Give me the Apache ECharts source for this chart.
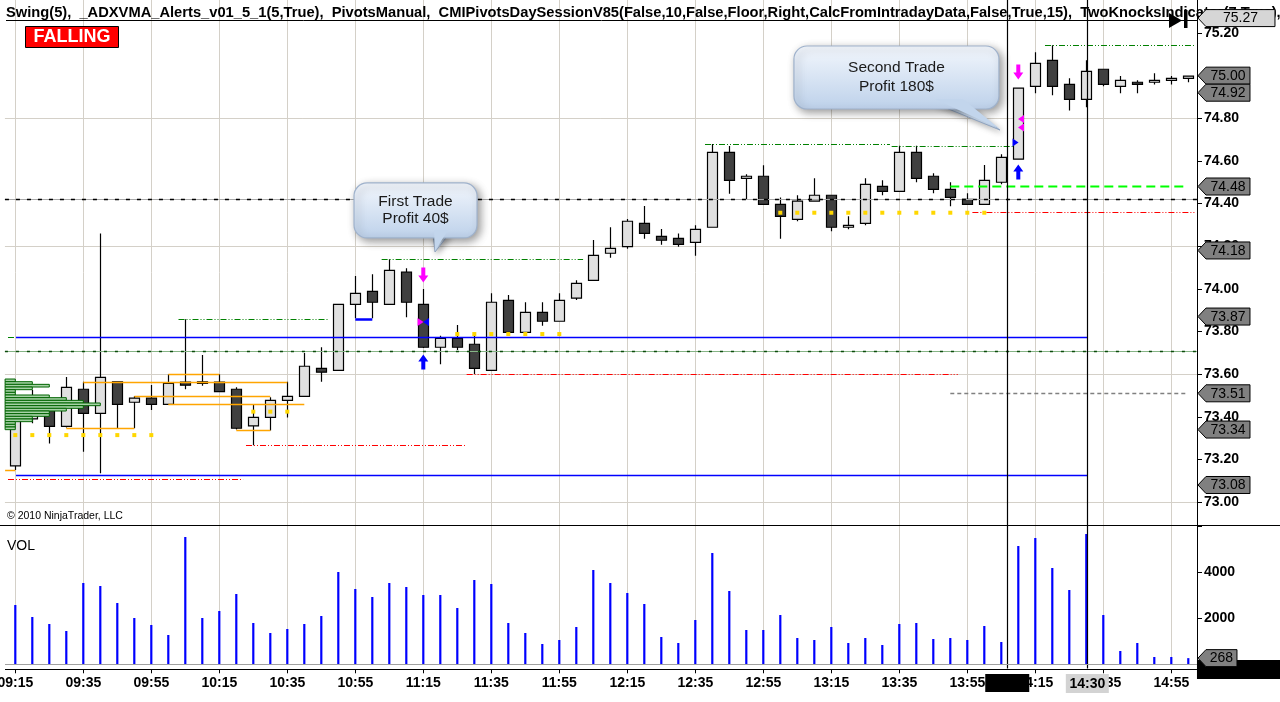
<!DOCTYPE html>
<html><head><meta charset="utf-8">
<script src="https://cdn.jsdelivr.net/npm/echarts@6/dist/echarts.min.js"></script>
<style>html,body{margin:0;padding:0;background:#fff;overflow:hidden}#c{width:1280px;height:702px}</style>
</head><body><div id="c"></div>
<script>
const FONT = '"Liberation Sans", Arial, sans-serif';
const times = ['09:15','09:20','09:25','09:30','09:35','09:40','09:45','09:50','09:55','10:00','10:05','10:10','10:15','10:20','10:25','10:30','10:35','10:40','10:45','10:50','10:55','11:00','11:05','11:10','11:15','11:20','11:25','11:30','11:35','11:40','11:45','11:50','11:55','12:00','12:05','12:10','12:15','12:20','12:25','12:30','12:35','12:40','12:45','12:50','12:55','13:00','13:05','13:10','13:15','13:20','13:25','13:30','13:35','13:40','13:45','13:50','13:55','14:00','14:05','14:10','14:15','14:20','14:25','14:30','14:35','14:40','14:45','14:50','14:55','15:00'];
const opens  = [73.17,73.39,73.432,73.355,73.529,73.416,73.564,73.468,73.487,73.458,73.563,73.557,73.563,73.529,73.357,73.397,73.477,73.496,73.627,73.618,73.9275,73.988,73.9275,74.078,73.9275,73.726,73.768,73.74,73.618,73.946,73.796,73.89,73.848,73.956,74.04,74.167,74.198,74.307,74.246,74.237,74.218,74.289,74.64,74.5185,74.528,74.3965,74.326,74.411,74.439,74.289,74.307,74.481,74.4575,74.64,74.528,74.467,74.42,74.3965,74.50,74.608,74.95,75.072,74.959,74.889,75.03,74.95,74.969,74.969,74.978,74.9875];
const highs  = [73.43,73.525,73.46,73.587,73.564,74.26,73.564,73.497,73.549,73.599,73.857,73.69,73.599,73.538,73.455,73.491,73.564,73.699,73.726,73.93,74.06,74.068,74.1385,74.096,73.999,73.78,73.83,73.79,73.979,73.971,73.937,73.937,73.979,74.04,74.229,74.289,74.328,74.389,74.281,74.26,74.298,74.679,74.67,74.537,74.58,74.429,74.439,74.5185,74.441,74.34,74.5185,74.509,74.671,74.671,74.542,74.50,74.448,74.581,74.631,74.941,75.11,75.142,74.9875,75.072,75.032,74.9985,74.978,75.011,74.9985,75.00];
const lows   = [73.15,73.37,73.274,73.35,73.236,73.135,73.346,73.346,73.432,73.458,73.529,73.546,73.518,73.34,73.266,73.335,73.396,73.496,73.564,73.615,73.862,73.862,73.925,73.8665,73.722,73.646,73.713,73.60,73.615,73.794,73.794,73.827,73.846,73.948,74.038,74.146,74.188,74.235,74.207,74.198,74.155,74.287,74.446,74.42,74.395,74.235,74.317,74.409,74.27,74.279,74.298,74.439,74.455,74.50,74.448,74.387,74.395,74.395,74.49,74.606,74.917,74.908,74.837,74.8515,74.95,74.917,74.917,74.959,74.959,74.969];
const closes = [73.385,73.445,73.355,73.538,73.416,73.585,73.458,73.487,73.458,73.557,73.548,73.564,73.518,73.346,73.397,73.477,73.496,73.637,73.609,73.9275,73.979,73.937,74.087,73.937,73.726,73.768,73.726,73.627,73.937,73.796,73.89,73.848,73.946,74.026,74.157,74.19,74.317,74.26,74.228,74.209,74.279,74.64,74.509,74.528,74.3965,74.34,74.411,74.439,74.289,74.298,74.49,74.4575,74.64,74.5185,74.467,74.429,74.3965,74.509,74.617,74.941,75.058,74.95,74.889,75.02,74.959,74.978,74.959,74.978,74.9875,74.998];
const volumes = [2578,2057,1752,1448,3535,3404,2665,2013,1709,1274,5535,2013,2317,3057,1796,1361,1535,1752,2100,4013,3274,2926,3535,3361,3013,3013,2448,3665,3491,1796,1361,883,1057,1622,4100,3535,3100,2622,1187,926,1926,4839,3187,1491,1491,2143,1143,1057,1622,926,1143,839,1752,1796,1100,1143,1057,1665,970,5143,5491,4187,3230,5665,2143,578,926,317,317,268];
const priceTickMin = 73.0, priceTickMax = 75.2;
const volTickLabels = [2000, 4000];
const priceGridLevels = [73.0, 73.6, 74.2, 74.8];
// segments: [startBar, endBar, price]
const greenSwingLines = [[-0.43,0,73.774],[9.6,18.4,73.857],[21.55,33.4,74.1385],[40.57,51.45,74.679],[51.55,58.75,74.671],[60.57,69.4,75.142]];
const redSwingLines = [[-0.43,13.4,73.107],[13.57,26.45,73.266],[26.55,55.44,73.60],[56.3,69.4,74.359]];
const blueLevelLines = [[0.04,63.06,73.774],[0.04,63.06,73.127]];
const blueSwingLow = [[20,21,73.857]];
const orangeLines = [[-0.6,0,73.150],[3,7,73.346],[4,16,73.564],[9,12,73.599],[7,15,73.4965],[9,17,73.46],[13,15,73.336]];
const grayDashLines = [[55,69,73.511]];
const limeDashLines = [[55,69,74.482]];
const pivotLevel = 74.421;
const greenPivotLevel = 73.707;
// yellow dots runs: [fromBar, toBar, price]
const yellowDotRuns = [[0,8,73.314],[14,16,73.424],[26,32,73.788],[45,57,74.357]];
// volume profile rows (top price, end bar)
const profileTops = [73.577,73.5645,73.552,73.5395,73.527,73.5145,73.502,73.4895,73.477,73.4645,73.452,73.4395,73.427,73.4145,73.402,73.3895,73.377,73.3645,73.352];
const profileEnds = [0,1,2,1,0,0,2,3,4,5,4,3,2,2,1,1,0,0,0];
// trade markers
const magentaDownArrows = [[24,74.065],[59,75.017]];
const blueUpArrows = [[24,73.657],[59,74.548]];
const magentaRightTri = [[23.84,73.8445]];
const blueLeftTri = [[24.16,73.8445]];
const magentaLeftTri = [[59.16,74.797],[59.16,74.757]];
const blueRightTri = [[58.84,74.686]];
const crosshairBars = [58.35, 63.06];
const priceTags = [75.27, 75.00, 74.92, 74.48, 74.18, 73.87, 73.51, 73.34, 73.08];
const lastVolume = 268;
const callouts = [
  {lines:['First Trade','Profit 40$'], bar:24.69, price:74.173},
  {lines:['Second Trade','Profit 180$'], bar:57.92, price:74.745}
];
const titleText = 'Swing(5),  _ADXVMA_Alerts_v01_5_1(5,True),  PivotsManual,  CMIPivotsDaySessionV85(False,10,False,Floor,Right,CalcFromIntradayData,False,True,15),  TwoKnocksIndicator(7,True),  ?';

const gridColor = '#d4d0c8';
const styles = {
  grid:{stroke:gridColor,lineWidth:1},
  green:{stroke:'#008000',lineWidth:1,lineDash:[6,2,1,2,1,2]},
  red:{stroke:'#ff0000',lineWidth:1,lineDash:[6,2,1,2,1,2]},
  blue:{stroke:'#0000ff',lineWidth:1.4},
  blueThick:{stroke:'#0000ff',lineWidth:2.5},
  orange:{stroke:'#ffa500',lineWidth:1.5},
  grayDash:{stroke:'#808080',lineWidth:1.3,lineDash:[4,3]},
  lime:{stroke:'#00ff00',lineWidth:2.2,lineDash:[9,5]},
  pivotBase:{stroke:'#a8a8a8',lineWidth:1},
  pivotDash:{stroke:'#000000',lineWidth:1.4,lineDash:[4,7]},
  gpBase:{stroke:'#86b486',lineWidth:1},
  gpDash:{stroke:'#0a4a0a',lineWidth:1.4,lineDash:[3,8]}
};
const FULL_L = -0.61, FULL_R = 69.51;
function tagSegs(arr, key){ return arr.map(s => [s[0], s[1], s[2], key]); }
const belowSegs = priceGridLevels.map(p => [FULL_L, FULL_R, p, 'grid']);
const aboveSegs = [].concat(
  [[FULL_L,FULL_R,pivotLevel,'pivotBase'],[FULL_L,FULL_R,pivotLevel,'pivotDash'],
   [FULL_L,FULL_R,greenPivotLevel,'gpBase'],[FULL_L,FULL_R,greenPivotLevel,'gpDash']],
  tagSegs(orangeLines,'orange'), tagSegs(greenSwingLines,'green'), tagSegs(redSwingLines,'red'),
  tagSegs(blueLevelLines,'blue'), tagSegs(blueSwingLow,'blueThick'),
  tagSegs(grayDashLines,'grayDash'), tagSegs(limeDashLines,'lime'));

function segSeries(data, z){
  return {type:'custom', xAxisIndex:2, yAxisIndex:0, z:z, silent:true, clip:false,
    dimensions:['x0','x1','p','s'], encode:{x:[0,1], y:2},
    data:data,
    renderItem:function(params, api){
      const d = data[params.dataIndex];
      const a = api.coord([d[0], d[2]]);
      const b = api.coord([d[1], d[2]]);
      const y = Math.round(a[1]) + 0.5;
      return {type:'line', shape:{x1:a[0], y1:y, x2:b[0], y2:y}, style:Object.assign({fill:null}, styles[d[3]])};
    }};
}
const yellowDots = [];
yellowDotRuns.forEach(r => { for (let i = r[0]; i <= r[1]; i++) yellowDots.push([i, r[2]]); });
const profileData = profileTops.map((t, i) => [profileEnds[i], t]);
const ROW = 0.0125;

const downArrow = 'path://M3,0 L7,0 L7,7 L10,7 L5,13 L0,7 L3,7 Z';
const upArrow = 'path://M5,0 L10,6 L7,6 L7,13 L3,13 L3,6 L0,6 Z';
function markerSeries(data, symbol, size, color, rotate){
  return {type:'scatter', xAxisIndex:2, yAxisIndex:0, z:6, silent:true, data:data, symbol:symbol, symbolSize:size, symbolRotate:rotate||0, itemStyle:{color:color, opacity:1}, clip:false};
}

// price scale: 75.20 sits at y=33, 73.00 at y=502
const PRICE_MIN = 72.8, PRICE_MAX = 75.3548;
const option = {
  animation:false,
  backgroundColor:'#ffffff',
  textStyle:{fontFamily:FONT},
  grid:[
    {left:15.3, width:1173, top:0, height:544.68, containLabel:false, outerBoundsMode:'none'},
    {left:15.3, width:1173, top:525, height:139.3, containLabel:false, outerBoundsMode:'none'}
  ],
  xAxis:[
    {type:'category', gridIndex:0, data:times, boundaryGap:false, axisLine:{show:false, onZero:false}, axisTick:{show:false}, axisLabel:{show:false},
     splitLine:{show:true, interval:3, lineStyle:{color:gridColor, width:1}}},
    {type:'category', gridIndex:1, data:times, boundaryGap:false, offset:5, axisLine:{show:false, onZero:false},
     axisTick:{show:true, interval:3, length:4, lineStyle:{color:'#000'}},
     axisLabel:{interval:3, margin:7, color:'#000', fontSize:14, fontWeight:'bold', fontFamily:FONT},
     splitLine:{show:true, interval:3, lineStyle:{color:gridColor, width:1}}},
    {type:'value', gridIndex:0, min:0, max:69, show:false, axisLine:{onZero:false}}
  ],
  yAxis:[
    {type:'value', gridIndex:0, position:'right', offset:8.7, min:PRICE_MIN, max:PRICE_MAX, interval:0.2,
     axisLine:{show:true, onZero:false, lineStyle:{color:'#000', width:1}}, axisTick:{show:true, length:5, lineStyle:{color:'#000'}},
     axisLabel:{margin:7, color:'#000', fontSize:14, fontWeight:'bold', fontFamily:FONT, showMaxLabel:false,
       formatter:v => (v < priceTickMin - 0.01 || v > priceTickMax + 0.01) ? '' : v.toFixed(2)},
     splitLine:{show:false}},
    {type:'value', gridIndex:1, position:'right', offset:8.7, min:0, max:6057, interval:2000,
     axisLine:{show:true, onZero:false, lineStyle:{color:'#000', width:1}}, axisTick:{show:true, length:5, lineStyle:{color:'#000'}},
     axisLabel:{margin:7, color:'#000', fontSize:14, fontWeight:'bold', fontFamily:FONT,
       formatter:v => volTickLabels.indexOf(v) >= 0 ? String(v) : ''},
     splitLine:{show:false}}
  ],
  series:[
    segSeries(belowSegs, 1),
    {type:'candlestick', xAxisIndex:0, yAxisIndex:0, z:2, silent:true, barWidth:10,
     data: times.map((t, i) => [opens[i], closes[i], lows[i], highs[i]]),
     itemStyle:{color:'#e0e0e0', color0:'#404040', borderColor:'#000', borderColor0:'#000', borderWidth:1.2}},
    {type:'custom', xAxisIndex:2, yAxisIndex:0, z:3, silent:true, clip:false, data:profileData, encode:{x:0, y:1},
     renderItem:function(params, api){
       const d = profileData[params.dataIndex];
       const a = api.coord([-0.6, d[1]]);
       const b = api.coord([d[0], d[1] - ROW]);
       return {type:'rect', shape:{x:a[0], y:a[1], width:b[0]-a[0], height:b[1]-a[1]}, style:{fill:'#a6d2a6', stroke:'#006400', lineWidth:1}};
     }},
    segSeries(aboveSegs, 4),
    {type:'scatter', xAxisIndex:0, yAxisIndex:0, z:5, silent:true, data:yellowDots, symbol:'rect', symbolSize:4, itemStyle:{color:'#ffd700', opacity:1}},
    markerSeries(magentaDownArrows, downArrow, [10,15], '#ff00ff'),
    markerSeries(blueUpArrows, upArrow, [10,15], '#0000ff'),
    markerSeries(magentaRightTri, 'triangle', [8,6], '#ff00ff', -90),
    markerSeries(blueLeftTri, 'triangle', [8,6], '#0000ff', 90),
    markerSeries(magentaLeftTri, 'triangle', [8,6], '#ff00ff', 90),
    markerSeries(blueRightTri, 'triangle', [8,6], '#0000ff', -90),
    {type:'bar', xAxisIndex:1, yAxisIndex:1, z:2, silent:true, barWidth:2.2, data:volumes, itemStyle:{color:'#0000ff'}}
  ]
};

const chart = echarts.init(document.getElementById('c'), null, {renderer:'canvas', width:1280, height:702});
chart.setOption(option);

const pxBar = i => chart.convertToPixel({xAxisIndex:2}, i);
const pyPrice = p => chart.convertToPixel({yAxisIndex:0}, p);
const pyVol = v => chart.convertToPixel({yAxisIndex:1}, v);
const axisX = pxBar(FULL_R);
const g = [];
function hline(x1, x2, y, stroke, z){ g.push({type:'line', silent:true, z:z||50, shape:{x1:x1, y1:y, x2:x2, y2:y}, style:{stroke:stroke, lineWidth:1}}); }
function text(x, y, t, o){ g.push(Object.assign({type:'text', silent:true, x:x, y:y, z:(o&&o.z)||60,
  style:{text:t, fill:(o&&o.fill)||'#000', fontSize:(o&&o.size)||14, fontWeight:(o&&o.weight)||'normal', fontFamily:FONT,
    align:(o&&o.align)||'left', textAlign:(o&&o.align)||'left', verticalAlign:'middle', textVerticalAlign:'middle', lineHeight:(o&&o.lh)||undefined}})); }

// hide the off-panel price tick that falls inside the volume panel
g.push({type:'rect', silent:true, z:54, shape:{x:Math.round(axisX)+1, y:pyPrice(PRICE_MIN)-2, width:7, height:4}, style:{fill:'#fff'}});
// panel frames
hline(0, 1280, 525.5, '#000', 55);
const zeroY = Math.round(pyVol(0)) + 0.5;
hline(5, axisX, zeroY, '#a0a0a0', 55);
hline(5, axisX, zeroY + 5, '#000', 55);
g.push({type:'line', silent:true, z:55, shape:{x1:Math.round(axisX)+0.5, y1:0, x2:Math.round(axisX)+0.5, y2:zeroY+4}, style:{stroke:'#000', lineWidth:1}});
// title
text(6, 13, titleText, {weight:'bold', size:14.7});
hline(6, axisX, 20.5, '#000', 55);
// crosshair verticals
crosshairBars.forEach(b => { const x = Math.round(pxBar(b)) + 0.5; g.push({type:'line', silent:true, z:52, shape:{x1:x, y1:0, x2:x, y2:zeroY + 4}, style:{stroke:'#000', lineWidth:1.2}}); });
// FALLING box
g.push({type:'rect', silent:true, z:60, shape:{x:25.5, y:26.5, width:93, height:21}, style:{fill:'#ff0000', stroke:'#000', lineWidth:1}});
text(72, 37.5, 'FALLING', {fill:'#fff', weight:'bold', size:18, align:'center', z:61});
// copyright & VOL
text(7, 516, '\u00a9 2010 NinjaTrader, LLC', {size:10.5});
text(7, 546, 'VOL', {size:14});
// callouts
const grad = () => new echarts.graphic.LinearGradient(0, 0, 0, 1, [{offset:0, color:'#f3f7fd'}, {offset:1, color:'#bdd1ea'}]);
function callout(tipX, tipY, box, ptr, lines, lh, size){
  g.push({type:'polygon', silent:true, z:70, shape:{points:[[tipX+ptr[0], tipY+ptr[1]], [tipX+ptr[2], tipY+ptr[3]], [tipX, tipY]]},
    style:{fill:'#c9daee', stroke:'#8fa3bf', lineWidth:1, shadowBlur:6, shadowColor:'rgba(0,0,0,0.35)', shadowOffsetX:2, shadowOffsetY:2}});
  g.push({type:'rect', silent:true, z:71, shape:{x:tipX+box[0], y:tipY+box[1], width:box[2], height:box[3], r:13},
    style:{fill:grad(), stroke:'#9fb2cc', lineWidth:1.2, shadowBlur:8, shadowColor:'rgba(0,0,0,0.4)', shadowOffsetX:3, shadowOffsetY:3}});
  g.push({type:'polygon', silent:true, z:72, shape:{points:[[tipX+ptr[0]+1, tipY+ptr[1]-4], [tipX+ptr[2]-1, tipY+ptr[3]-4], [tipX, tipY-1]]},
    style:{fill:'#c2d5ec'}});
  text(tipX+box[0]+box[2]/2, tipY+box[1]+box[3]/2, lines.join('\n'), {size:size, align:'center', lh:lh, fill:'#1a1a1a', z:73});
}
{
  const c1 = callouts[0];
  callout(pxBar(c1.bar), pyPrice(c1.price), [-81, -69, 123, 55], [-2, -18, 14, -18], c1.lines, 17, 15.5);
  const c2 = callouts[1];
  callout(pxBar(c2.bar), pyPrice(c2.price), [-206, -84, 205, 63], [-66, -27, -36, -27], c2.lines, 19, 15.5);
}
// play button
g.push({type:'polygon', silent:true, z:80, shape:{points:[[1169,13],[1169,28],[1182,20.5]]}, style:{fill:'#000'}});
g.push({type:'rect', silent:true, z:80, shape:{x:1184, y:10, width:3.5, height:18}, style:{fill:'#000'}});
// price tags
function priceTag(yc, label, fill, w){
  const x0 = axisX + 1, h = 17;
  g.push({type:'polygon', silent:true, z:90, shape:{points:[[x0,yc],[x0+8,yc-h/2],[x0+w,yc-h/2],[x0+w,yc+h/2],[x0+8,yc+h/2]]}, style:{fill:fill, stroke:'#000', lineWidth:1}});
  text(x0 + 8 + (w - 8) / 2, yc + 0.5, label, {size:14, align:'center', z:91});
}
priceTags.forEach((v, i) => priceTag(pyPrice(v), v.toFixed(2), i === 0 ? '#d6d6d6' : '#808080', i === 0 ? 77 : 52));
// bottom right black block and volume tag
g.push({type:'rect', silent:true, z:85, shape:{x:axisX, y:660, width:1280-axisX, height:19}, style:{fill:'#000'}});
priceTag(pyVol(lastVolume), String(lastVolume), '#808080', 39);
// crosshair x labels
{
  const xb = pxBar(crosshairBars[0]);
  g.push({type:'rect', silent:true, z:80, shape:{x:xb-22, y:674, width:44, height:18}, style:{fill:'#000'}});
  const xg = pxBar(crosshairBars[1]);
  g.push({type:'rect', silent:true, z:80, shape:{x:xg-21.5, y:674, width:43, height:19}, style:{fill:'#d3d3d3'}});
  text(xg, 684, times[63], {weight:'bold', size:14, align:'center', z:81});
}
chart.setOption({graphic:{elements:g}});
</script>
</body></html>
